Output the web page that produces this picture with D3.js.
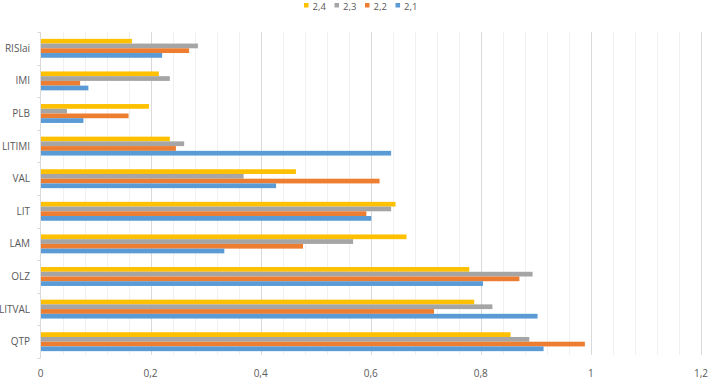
<!DOCTYPE html>
<html>
<head>
<meta charset="utf-8">
<script src="https://cdn.jsdelivr.net/npm/d3@7"></script>
<style>
    body { margin: 0; background: #fff; }
    text { font-family: "Open Sans", sans-serif; fill: #595959; }
</style>
</head>
<body>
<div id="chart"></div>
<script>
// categories top to bottom
const categories = ["RISlai", "IMI", "PLB", "LITIMI", "VAL", "LIT", "LAM", "OLZ", "LITVAL", "QTP"];
const seriesNames = ["2,4", "2,3", "2,2", "2,1"];
const seriesColors = ["#FFC000", "#A5A5A5", "#ED7D31", "#5B9BD5"];

const s24 = [0.166, 0.215, 0.197, 0.235, 0.464, 0.645, 0.665, 0.779, 0.788, 0.854];
const s23 = [0.286, 0.235, 0.048, 0.261, 0.369, 0.637, 0.568, 0.894, 0.821, 0.888];
const s22 = [0.270, 0.072, 0.160, 0.246, 0.616, 0.592, 0.477, 0.870, 0.715, 0.989];
const s21 = [0.221, 0.087, 0.078, 0.637, 0.428, 0.601, 0.334, 0.804, 0.903, 0.914];

const xTicks = [0, 0.2, 0.4, 0.6, 0.8, 1, 1.2];

(() => {
    const width = 709, height = 379;
    const margin = { top: 32, right: 8, bottom: 21, left: 40.5 };

    const seriesValues = [s24, s23, s22, s21];
    const rows = categories.map((c, i) => ({
        cat: c,
        vals: seriesNames.map((s, j) => ({ series: s, value: seriesValues[j][i], color: seriesColors[j] }))
    }));

    const x = d3.scaleLinear()
        .domain([0, 1.2])
        .range([margin.left, width - margin.right]);

    const y = d3.scaleBand()
        .domain(categories)
        .range([margin.top, height - margin.bottom])
        .paddingInner(0.42)
        .paddingOuter(0.21);

    const yInner = d3.scaleBand()
        .domain(seriesNames)
        .range([0, y.bandwidth()]);

    const svg = d3.select("#chart")
        .append("svg")
        .attr("width", width)
        .attr("height", height);

    const comma = d3.formatLocale({ decimal: ",", thousands: ".", grouping: [3], currency: ["", ""] }).format("~g");

    // minor grid
    svg.append("g")
        .selectAll("line")
        .data(d3.range(1, 31).filter(i => i % 5 !== 0).map(i => i * 0.04))
        .enter()
        .append("line")
        .attr("x1", d => Math.round(x(d)) + 0.5)
        .attr("x2", d => Math.round(x(d)) + 0.5)
        .attr("y1", margin.top)
        .attr("y2", height - margin.bottom - 3)
        .attr("stroke", "#F0F0F0");

    // major grid
    svg.append("g")
        .selectAll("line")
        .data(xTicks.slice(1))
        .enter()
        .append("line")
        .attr("x1", d => Math.round(x(d)) + 0.5)
        .attr("x2", d => Math.round(x(d)) + 0.5)
        .attr("y1", margin.top)
        .attr("y2", height - margin.bottom - 3)
        .attr("stroke", "#D9D9D9");

    // bars
    const groups = svg.append("g")
        .selectAll("g")
        .data(rows)
        .enter()
        .append("g")
        .attr("transform", d => `translate(0,${y(d.cat)})`);

    groups.selectAll("rect")
        .data(d => d.vals)
        .enter()
        .append("rect")
        .attr("x", x(0))
        .attr("y", d => yInner(d.series))
        .attr("width", d => x(d.value) - x(0))
        .attr("height", yInner.bandwidth())
        .attr("fill", d => d.color);

    // left axis line and category separators
    const axisX = Math.round(x(0)) - 0.5;
    svg.append("line")
        .attr("x1", axisX).attr("x2", axisX)
        .attr("y1", margin.top).attr("y2", height - margin.bottom)
        .attr("stroke", "#D9D9D9");

    const step = y.step();
    svg.append("g")
        .selectAll("line")
        .data(d3.range(categories.length + 1))
        .enter()
        .append("line")
        .attr("x1", axisX - 3).attr("x2", axisX)
        .attr("y1", i => Math.round(margin.top + i * step) + 0.5)
        .attr("y2", i => Math.round(margin.top + i * step) + 0.5)
        .attr("stroke", "#D9D9D9");

    // category labels
    svg.append("g")
        .selectAll("text")
        .data(categories)
        .enter()
        .append("text")
        .attr("x", 30)
        .attr("y", d => y(d) + y.bandwidth() / 2)
        .attr("dy", "0.35em")
        .attr("text-anchor", "end")
        .style("font-size", "10px")
        .text(d => d);

    // x tick labels
    svg.append("g")
        .selectAll("text")
        .data(xTicks)
        .enter()
        .append("text")
        .attr("x", d => x(d))
        .attr("y", 373)
        .attr("dy", "0.35em")
        .attr("text-anchor", "middle")
        .style("font-size", "10px")
        .text(d => comma(d));

    // legend
    const legend = svg.append("g")
        .selectAll("g")
        .data(seriesNames)
        .enter()
        .append("g")
        .attr("transform", (d, i) => `translate(${304 + i * 30.5},0)`);

    legend.append("rect")
        .attr("x", 0)
        .attr("y", 3)
        .attr("width", 4.5)
        .attr("height", 4.5)
        .attr("fill", (d, i) => seriesColors[i]);

    legend.append("text")
        .attr("x", 8.5)
        .attr("y", 10.3)
        .style("font-size", "9.5px")
        .text(d => d);
})();
</script>
</body>
</html>
